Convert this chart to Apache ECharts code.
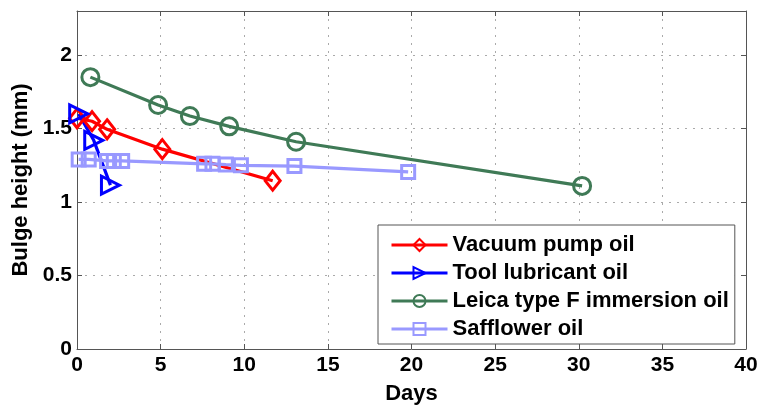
<!DOCTYPE html>
<html>
<head>
<meta charset="utf-8">
<script src="https://cdn.jsdelivr.net/npm/echarts@6/dist/echarts.min.js"></script>
<style>
html,body{margin:0;padding:0;background:#fff;}
#c{width:762px;height:410px;}
</style>
</head>
<body>
<div id="c"></div>
<script>
var seriesNames = ['Vacuum pump oil', 'Tool lubricant oil', 'Leica type F immersion oil', 'Safflower oil'];
var vacuumDays = [0, 0.9, 1.8, 5.1, 11.7];
var vacuumHeight = [1.57, 1.55, 1.495, 1.36, 1.145];
var toolDays = [0.1, 1.0, 2.0];
var toolHeight = [1.60, 1.42, 1.115];
var leicaDays = [0.8, 4.85, 6.75, 9.1, 13.1, 30.2];
var leicaHeight = [1.85, 1.66, 1.585, 1.515, 1.41, 1.11];
var saffDays = [0.1, 0.7, 1.8, 2.2, 2.7, 7.6, 8.1, 8.9, 9.8, 13.0, 19.8];
var saffHeight = [1.29, 1.29, 1.28, 1.28, 1.28, 1.26, 1.26, 1.255, 1.25, 1.245, 1.205];
var xTicks = [0, 5, 10, 15, 20, 25, 30, 35, 40];
var yTicks = [0, 0.5, 1, 1.5, 2];

function pairs(xs, ys) { return xs.map(function (x, i) { return [x, ys[i]]; }); }

var colors = ['#ff0000', '#0000ff', '#3f7a56', '#9999ff'];
var symbols = ['diamond', 'triangle', 'circle', 'rect'];
var sizes = [[15, 19], 18, 17, 13];
var rotates = [0, -90, 0, 0];
var dataSets = [pairs(vacuumDays, vacuumHeight), pairs(toolDays, toolHeight), pairs(leicaDays, leicaHeight), pairs(saffDays, saffHeight)];

var font = 'Liberation Sans, Arial, Helvetica, sans-serif';
var axisColor = '#555';

var series = seriesNames.map(function (n, i) {
  return {
    name: n, type: 'line', data: dataSets[i],
    symbol: symbols[i], symbolSize: sizes[i], symbolRotate: rotates[i],
    showAllSymbol: true,
    lineStyle: { color: colors[i], width: 3.2 },
    itemStyle: { color: 'rgba(255,255,255,0)', borderColor: colors[i], borderWidth: 3 },
    emphasis: { disabled: true },
    animation: false
  };
});

var chart = echarts.init(document.getElementById('c'));
chart.setOption({
  animation: false,
  backgroundColor: '#fff',
  textStyle: { fontFamily: font },
  grid: { left: 77, right: 16, top: 11, bottom: 58, show: false },
  legend: {
    data: seriesNames,
    orient: 'vertical',
    left: 378, top: 225,
    padding: [9, 6, 4, 12],
    backgroundColor: '#fff',
    borderColor: '#555', borderWidth: 1,
    itemWidth: 56, itemHeight: 15, itemGap: 6,
    lineStyle: { width: 3 },
    textStyle: { fontFamily: font, fontWeight: 'bold', fontSize: 22, color: '#000', padding: [0, 0, 0, 0], lineHeight: 22 },
    selectedMode: false
  },
  xAxis: [{
    type: 'value', min: 0, max: 40, interval: 5,
    name: 'Days', nameLocation: 'middle', nameGap: 34,
    nameTextStyle: { fontFamily: font, fontWeight: 'bold', fontSize: 22, color: '#000' },
    axisLine: { show: true, onZero: false, lineStyle: { color: axisColor, width: 1 } },
    axisTick: { show: true, inside: true, length: 5, lineStyle: { color: axisColor } },
    axisLabel: { fontFamily: font, fontWeight: 'bold', fontSize: 21, color: '#000', margin: 6,
      formatter: function (v) { return xTicks.indexOf(v) >= 0 ? String(v) : ''; } },
    splitLine: { show: true, lineStyle: { color: '#aaa', type: [2, 6], width: 1 } }
  }, {
    type: 'value', min: 0, max: 40, interval: 5, position: 'top',
    axisLine: { show: true, onZero: false, lineStyle: { color: axisColor, width: 1 } },
    axisTick: { show: true, inside: true, length: 5, lineStyle: { color: axisColor } },
    axisLabel: { show: false }, splitLine: { show: false }
  }],
  yAxis: [{
    type: 'value', min: 0, max: 2.3, interval: 0.5,
    name: 'Bulge height (mm)', nameLocation: 'middle', nameGap: 36,
    nameTextStyle: { fontFamily: font, fontWeight: 'bold', fontSize: 22, color: '#000' },
    axisLine: { show: true, onZero: false, lineStyle: { color: axisColor, width: 1 } },
    axisTick: { show: true, inside: true, length: 5, lineStyle: { color: axisColor } },
    axisLabel: { fontFamily: font, fontWeight: 'bold', fontSize: 21, color: '#000', margin: 5, showMaxLabel: false,
      formatter: function (v) { return yTicks.indexOf(v) >= 0 ? String(v) : ''; } },
    splitLine: { show: true, lineStyle: { color: '#aaa', type: [2, 6], width: 1 } }
  }, {
    type: 'value', min: 0, max: 2.3, interval: 0.5, position: 'right',
    axisLine: { show: true, onZero: false, lineStyle: { color: axisColor, width: 1 } },
    axisTick: { show: true, inside: true, length: 5, lineStyle: { color: axisColor } },
    axisLabel: { show: false }, splitLine: { show: false }
  }],
  series: series
});
</script>
</body>
</html>
